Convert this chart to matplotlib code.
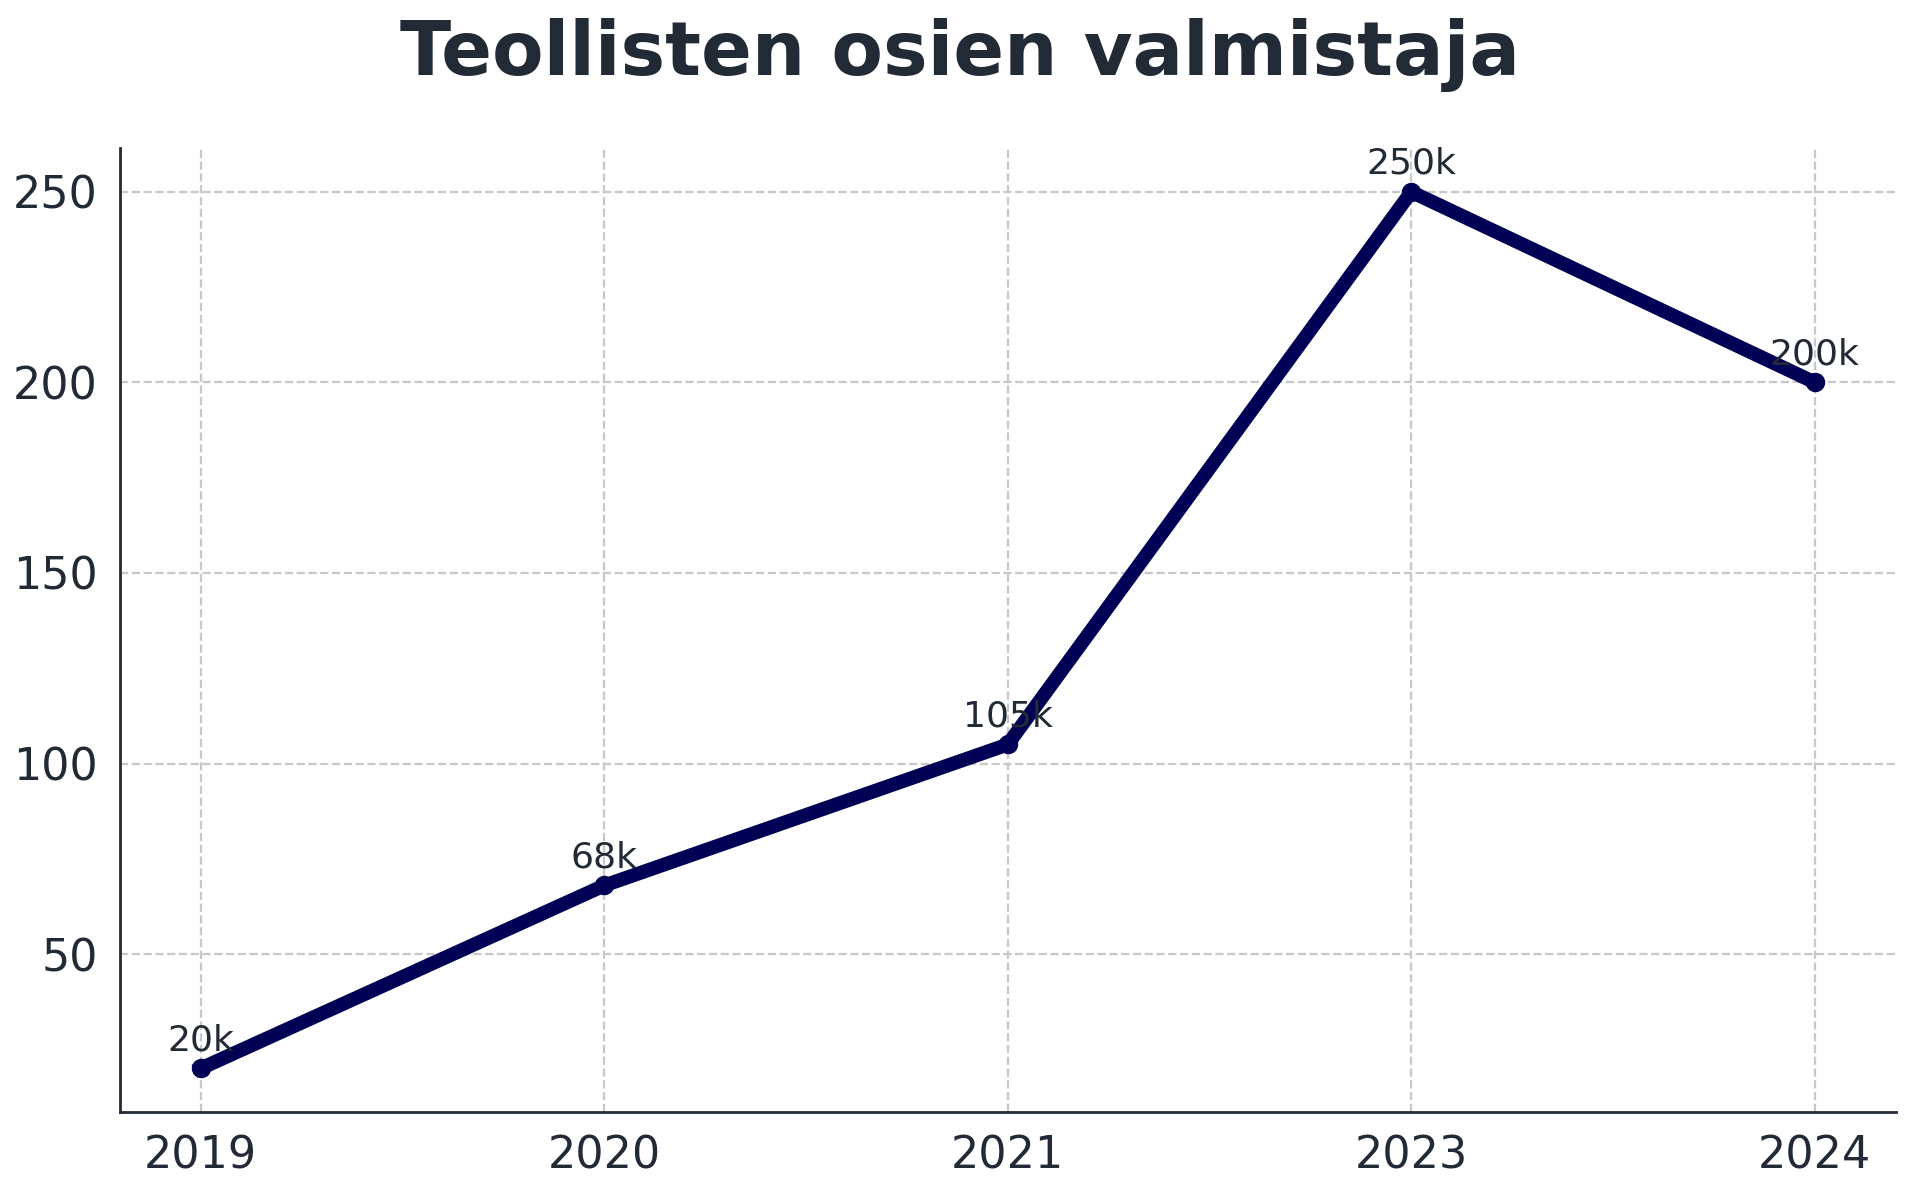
import matplotlib
matplotlib.use("Agg")
import matplotlib.pyplot as plt

years = ["2019", "2020", "2021", "2023", "2024"]
values = [20, 68, 105, 250, 200]
labels = ["20k", "68k", "105k", "250k", "200k"]

txt = "#222a35"
W, H = 1568, 975
fig, ax = plt.subplots(figsize=(9.6, 5.965), dpi=200)
fig.subplots_adjust(left=98/W, right=1548/W, top=1-121/H, bottom=1-909/H)
x = list(range(len(years)))
ax.plot(x, values, color="#000055", linewidth=5, marker="o", markersize=6)
for xi, v, l in zip(x, values, labels):
    ax.annotate(l, (xi, v), xytext=(0, 4), textcoords="offset points",
                ha="center", va="bottom", fontsize=13, color=txt)
ax.set_xticks(x)
ax.set_xticklabels(years)
ax.set_yticks([50, 100, 150, 200, 250])
ax.tick_params(length=0, labelsize=16, labelcolor=txt, pad=8)
ax.grid(True, linestyle="--", color="#c8c8c8", linewidth=0.8)
ax.set_axisbelow(True)
for s in ["top", "right"]:
    ax.spines[s].set_visible(False)
for s in ["left", "bottom"]:
    ax.spines[s].set_color(txt)
    ax.spines[s].set_linewidth(1)
fig.suptitle("Teollisten osien valmistaja", fontsize=27, fontweight="bold",
             color=txt, y=0.985)
fig.savefig("out.png", dpi=200)
